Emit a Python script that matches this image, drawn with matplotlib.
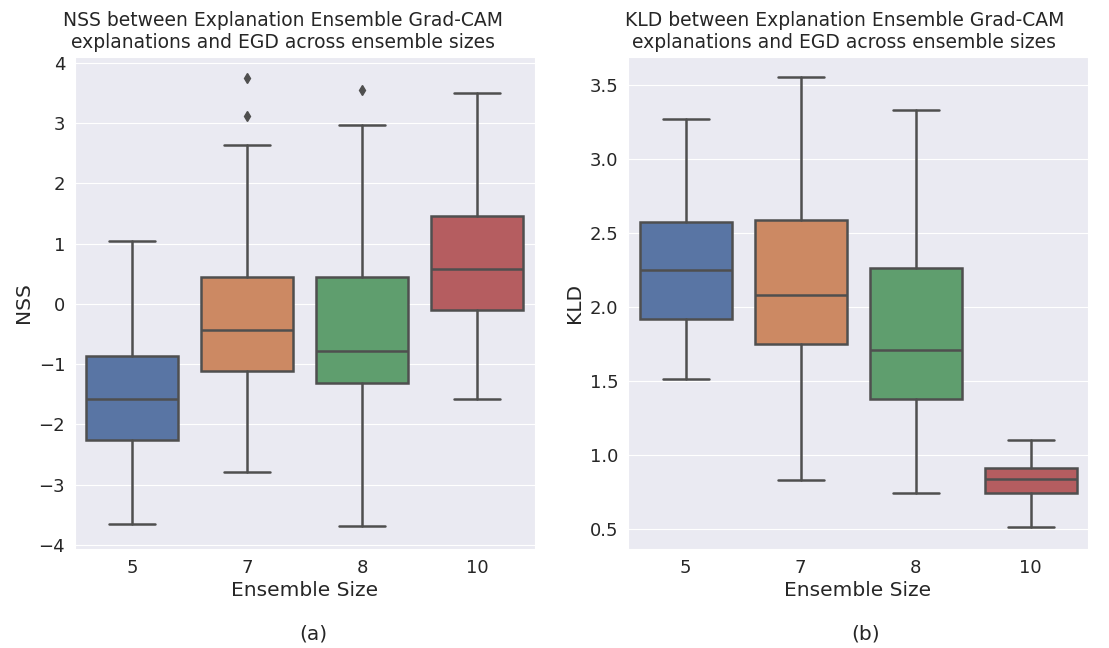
import matplotlib
matplotlib.use('Agg')
import matplotlib.pyplot as plt
import seaborn as sns

sizes = ['5', '7', '8', '10']
box_colors = ['#5975a4', '#cc8963', '#5f9e6e', '#b55d60']
line_color = '#4f4f4f'

# NSS summary per ensemble size
nss_whislo = [-3.65, -2.79, -3.68, -1.58]
nss_q1 = [-2.26, -1.12, -1.31, -0.10]
nss_med = [-1.58, -0.44, -0.78, 0.57]
nss_q3 = [-0.87, 0.44, 0.44, 1.45]
nss_whishi = [1.04, 2.64, 2.97, 3.49]
nss_fliers = [[], [3.12, 3.75], [3.54], []]

# KLD summary per ensemble size
kld_whislo = [1.51, 0.83, 0.74, 0.51]
kld_q1 = [1.92, 1.75, 1.38, 0.74]
kld_med = [2.25, 2.08, 1.71, 0.84]
kld_q3 = [2.57, 2.59, 2.26, 0.91]
kld_whishi = [3.27, 3.55, 3.33, 1.10]
kld_fliers = [[], [], [], []]

sns.set_style('darkgrid')
plt.rcParams['font.family'] = ['DejaVu Sans']


def make_stats(whislo, q1, med, q3, whishi, fliers):
    return [dict(label=lab, whislo=a, q1=b, med=c, q3=d, whishi=e, fliers=f)
            for lab, a, b, c, d, e, f in zip(sizes, whislo, q1, med, q3, whishi, fliers)]


def draw_box(ax, stats):
    bp = ax.bxp(stats, positions=range(len(stats)), widths=0.8, capwidths=0.4,
                patch_artist=True, manage_ticks=False,
                boxprops=dict(edgecolor=line_color, linewidth=1.8),
                medianprops=dict(color=line_color, linewidth=1.8),
                whiskerprops=dict(color=line_color, linewidth=1.8),
                capprops=dict(color=line_color, linewidth=1.8),
                flierprops=dict(marker='d', markerfacecolor=line_color,
                                markeredgecolor=line_color, markersize=5))
    for patch, c in zip(bp['boxes'], box_colors):
        patch.set_facecolor(c)
    ax.set_xticks(range(len(sizes)))
    ax.set_xticklabels(sizes)
    ax.set_xlim(-0.5, len(sizes) - 0.5)
    ax.grid(axis='x', visible=False)
    ax.tick_params(labelsize=13, colors='#262626')
    ax.set_xlabel('Ensemble Size', fontsize=14.5, color='#262626', labelpad=3)


fig = plt.figure(figsize=(11.09, 6.48), dpi=100)
ax1 = fig.add_axes([0.0676, 0.1525, 0.4148, 0.76])
ax2 = fig.add_axes([0.5663, 0.1525, 0.4148, 0.76])

draw_box(ax1, make_stats(nss_whislo, nss_q1, nss_med, nss_q3, nss_whishi, nss_fliers))
ax1.set_yticks(range(-4, 5))
ax1.set_ylim(-4.07, 4.1)
ax1.set_ylabel('NSS', fontsize=14.5, color='#262626')
ax1.set_title('NSS between Explanation Ensemble Grad-CAM\nexplanations and EGD across ensemble sizes',
              fontsize=13.5, x=0.452, color='#262626', pad=6)

draw_box(ax2, make_stats(kld_whislo, kld_q1, kld_med, kld_q3, kld_whishi, kld_fliers))
ax2.set_yticks([0.5, 1.0, 1.5, 2.0, 2.5, 3.0, 3.5])
ax2.set_ylim(0.363, 3.69)
ax2.set_ylabel('KLD', fontsize=14.5, color='#262626')
ax2.set_title('KLD between Explanation Ensemble Grad-CAM\nexplanations and EGD across ensemble sizes',
              fontsize=13.5, x=0.47, color='#262626', pad=6)

fig.text(313 / 1109, 1 - 634 / 648, '(a)', ha='center', va='center', fontsize=14.5)
fig.text(866 / 1109, 1 - 634 / 648, '(b)', ha='center', va='center', fontsize=14.5)

fig.savefig('out.png', dpi=100)
